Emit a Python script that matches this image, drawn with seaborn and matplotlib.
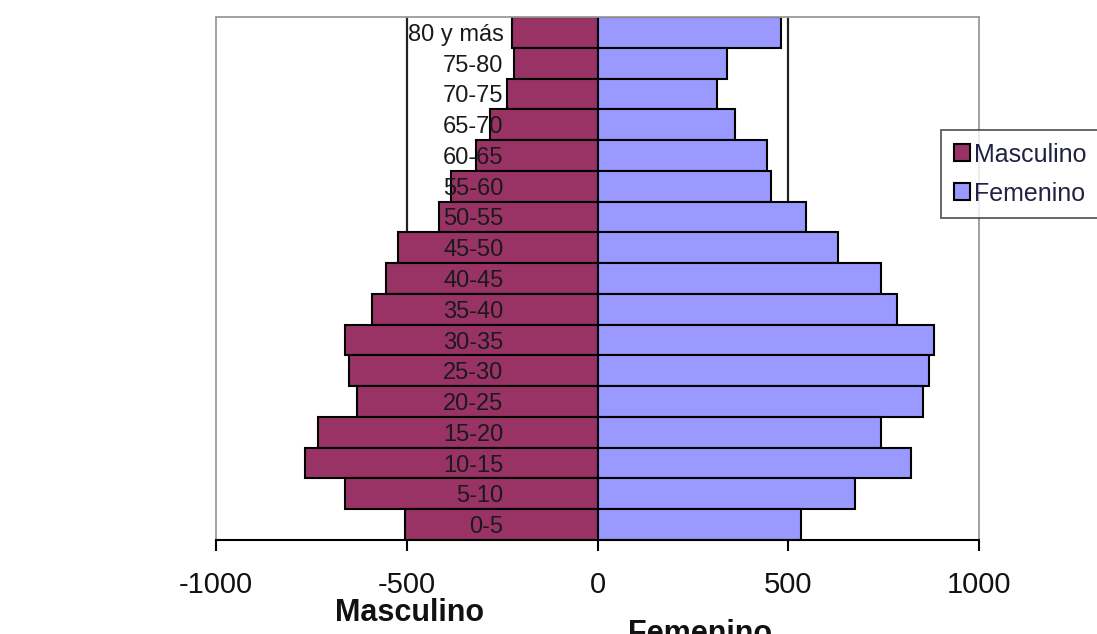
import matplotlib
matplotlib.use("Agg")
import matplotlib.pyplot as plt
import seaborn as sns
import pandas as pd

# ---- data ----
grupos = ["80 y más", "75-80", "70-75", "65-70", "60-65", "55-60", "50-55",
          "45-50", "40-45", "35-40", "30-35", "25-30", "20-25", "15-20",
          "10-15", "5-10", "0-5"]
masculino = [225, 220, 236, 283, 319, 384, 416, 524, 555, 592, 662, 652,
             630, 733, 767, 662, 505]
femenino = [482, 340, 314, 361, 445, 455, 547, 631, 743, 785, 882, 869,
            853, 743, 822, 675, 534]
xticks = [-1000, -500, 0, 500, 1000]
xtick_labels = ["-1000", "-500", "0", "500", "1000"]
series_names = ["Masculino", "Femenino"]
colors = {"Masculino": "#993366", "Femenino": "#9999FF"}

df = pd.DataFrame({
    "grupo": grupos * 2,
    "valor": [-v for v in masculino] + femenino,
    "sexo": [series_names[0]] * len(grupos) + [series_names[1]] * len(grupos),
})

sns.set_style("white")
plt.rcParams["font.family"] = ["Liberation Sans", "DejaVu Sans"]
plt.rcParams["axes.unicode_minus"] = False

fig = plt.figure(figsize=(10.97, 6.34), dpi=100)
ax = fig.add_axes([216 / 1097, 1 - 540 / 634, (979 - 216) / 1097, (540 - 17) / 634])

sns.barplot(data=df, y="grupo", x="valor", hue="sexo", order=grupos,
            hue_order=series_names, palette=colors, dodge=False, width=1.0,
            edgecolor="black", linewidth=1.5, orient="h", saturation=1,
            ax=ax, legend=True)

ax.set_axisbelow(False)
for v in (-500, 500):
    ax.axvline(v, color="#222222", lw=1.6, zorder=0.5)

ax.set_xlim(-1000, 1000)
ax.set_xticks(xticks)
ax.set_xticklabels(xtick_labels, fontsize=21, color="#111111")
ax.set_xlabel("")
ax.set_ylabel("")
ax.tick_params(axis="x", direction="out", length=8, width=1.5, color="black",
               pad=14, bottom=True)
ax.tick_params(axis="y", length=0, pad=-207)
for lab in ax.get_yticklabels():
    lab.set_fontsize(17)
    lab.set_color("#1a1a1a")
ax.yaxis.set_zorder(5)
ax.xaxis.set_zorder(5)

for side in ("left", "top", "right"):
    ax.spines[side].set_color("#9a9a9a")
    ax.spines[side].set_linewidth(1.3)
ax.spines["bottom"].set_color("black")
ax.spines["bottom"].set_linewidth(1.5)

handles, labels = ax.get_legend_handles_labels()
if ax.legend_:
    ax.legend_.remove()
leg = fig.legend(handles, labels, loc="upper left",
                 bbox_to_anchor=(941 / 1097, 1 - 130 / 634),
                 frameon=True, fancybox=False, fontsize=18,
                 handlelength=0.65, handleheight=0.65, handletextpad=0.15,
                 labelspacing=0.6, borderpad=0.5, borderaxespad=0)
leg.get_frame().set_edgecolor("#333333")
leg.get_frame().set_linewidth(1.3)
for t in leg.get_texts():
    t.set_color("#222244")

fig.text(410 / 1097, 1 - 613 / 634, "Masculino", ha="center", va="center",
         fontsize=22, fontweight="bold", color="#111111")
fig.text(700 / 1097, 1 - 634 / 634, "Femenino", ha="center", va="center",
         fontsize=22, fontweight="bold", color="#111111")

fig.savefig("out.png", dpi=100)
